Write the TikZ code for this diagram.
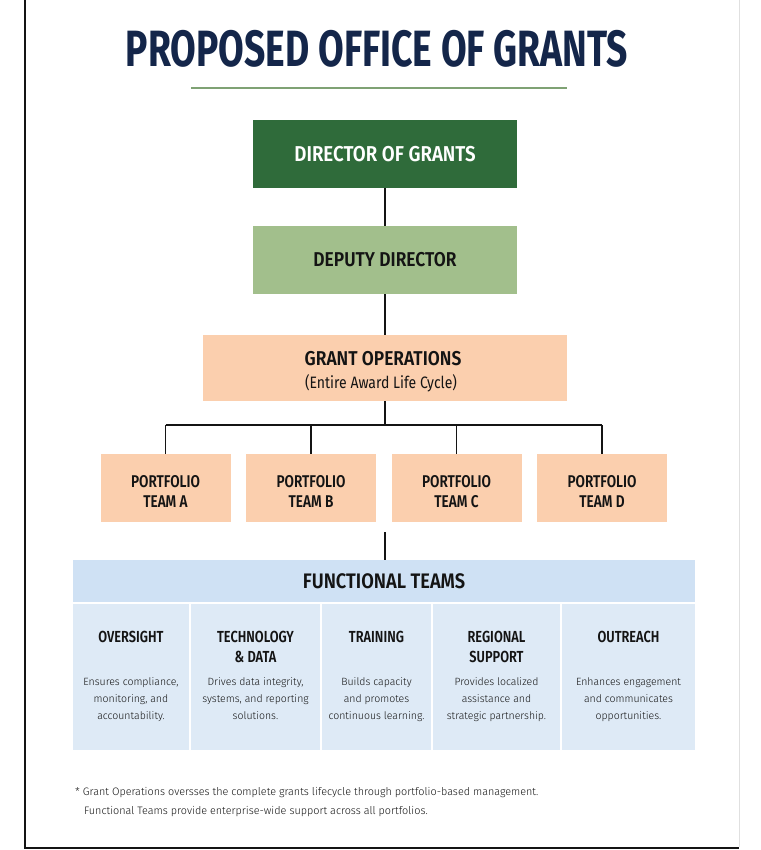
\documentclass[tikz,border=0pt]{standalone}
\usepackage{fontspec}
\setmainfont{Fira Sans}[FakeStretch=0.85]
\newfontfamily\ftitle{Fira Sans}[FakeStretch=0.73,UprightFont=*-Bold]
\newfontfamily\fbig{Fira Sans}[FakeStretch=0.87,UprightFont=*-SemiBold]
\newfontfamily\fmid{Fira Sans}[FakeStretch=0.8,UprightFont=*-SemiBold]
\newfontfamily\flight{Fira Sans}[UprightFont=*-Light]
\definecolor{navy}{HTML}{14264A}
\definecolor{dgreen}{HTML}{2F6B3A}
\definecolor{lgreen}{HTML}{A2BF8C}
\definecolor{rulegreen}{HTML}{7FA274}
\definecolor{peach}{HTML}{FBCFAE}
\definecolor{hblue}{HTML}{CFE1F4}
\definecolor{cblue}{HTML}{DEEAF6}
\definecolor{ink}{HTML}{141414}
\begin{document}
\begin{tikzpicture}[x=1pt,y=-1pt,
  box/.style={inner sep=0pt,align=center,text=ink},
  conn/.style={draw=ink,line width=1.2pt},
  coltitle/.style={align=center,font=\fmid\fontsize{16}{20}\selectfont,text=ink,anchor=base,inner sep=0pt},
  coldesc/.style={align=center,font=\flight\fontsize{10.5}{17}\selectfont,text=ink,anchor=base,inner sep=0pt}]
\useasboundingbox (0,0) rectangle (760,850);
\fill[white] (0,0) rectangle (760,850);
% frame
\draw[line width=1.2pt,ink] (25,0) -- (25,848) -- (739,848);
\draw[line width=1pt,black!12] (739,0) -- (739,847);
% title
\node[font=\ftitle\fontsize{51}{54}\selectfont,text=navy,anchor=base,inner sep=0pt] (title) at (377,67) {PROPOSED OFFICE OF GRANTS};
\coordinate (rl) at (191,88); \coordinate (rr) at (567,88);
\draw[rulegreen,line width=1.5pt] (rl) -- (rr);
% top boxes
\node[box,fill=dgreen,minimum width=264,minimum height=68,text=white,font=\fbig\fontsize{21.5}{24}\selectfont] (dir) at (385,154) {DIRECTOR OF GRANTS};
\node[box,fill=lgreen,minimum width=264,minimum height=68,font=\fbig\fontsize{20}{22}\selectfont] (dep) at (385,260) {DEPUTY DIRECTOR};
\node[box,fill=peach,minimum width=364,minimum height=66] (ops) at (385,368) {};
\node[font=\fbig\fontsize{20}{22}\selectfont,text=ink,anchor=base,inner sep=0pt] (opst) at (383,365) {GRANT OPERATIONS};
\node[font=\fontsize{16.5}{18}\selectfont,text=ink,anchor=base,inner sep=0pt] (opss) at (381,388) {(Entire Award Life Cycle)};
\draw[conn] (dir) -- (dep);
\draw[conn] (dep) -- (ops);
% portfolio teams
\foreach \n/\x/\l in {ta/165.5/A,tb/311/B,tc/456.5/C,td/602/D}{
  \node[box,fill=peach,minimum width=130,minimum height=68] (\n) at (\x,488) {};
  \node[box,anchor=base,font=\fmid\fontsize{17}{20}\selectfont] (\n t) at (\x,507) {PORTFOLIO\\TEAM \l};
}
\coordinate (bus) at (385,425);
\draw[conn] (ops) -- (bus);
\draw[conn] (ta.north |- bus) -- (td.north |- bus);
\foreach \n in {ta,tb,tc,td}{\draw[conn] (\n.north |- bus) -- (\n.north);}
% functional teams
\node[box,fill=hblue,minimum width=622,minimum height=42,font=\fbig\fontsize{21}{24}\selectfont] (fh) at (384,581) {FUNCTIONAL TEAMS};
\coordinate (tap) at (385,532);
\draw[conn] (tap) -- (tap |- fh.north);
\foreach \n/\x/\w in {c1/131/116,c2/255.5/129,c3/376.5/109,c4/496.5/127,c5/628.5/133}{
  \node[box,fill=cblue,minimum width=\w,minimum height=146] (\n) at (\x,677) {};
}
\node[coltitle] (h1) at (c1 |- 0,642) {OVERSIGHT};
\node[coltitle] (h2) at (c2 |- 0,662) {TECHNOLOGY\\\& DATA};
\node[coltitle] (h3) at (c3 |- 0,642) {TRAINING};
\node[coltitle] (h4) at (c4 |- 0,662) {REGIONAL\\SUPPORT};
\node[coltitle] (h5) at (c5 |- 0,642) {OUTREACH};
\node[coldesc] (d1) at (c1 |- 0,719) {Ensures compliance,\\monitoring, and\\accountability.};
\node[coldesc] (d2) at (c2 |- 0,719) {Drives data integrity,\\systems, and reporting\\solutions.};
\node[coldesc] (d3) at (c3 |- 0,719) {Builds capacity\\and promotes\\continuous learning.};
\node[coldesc] (d4) at (c4 |- 0,719) {Provides localized\\assistance and\\strategic partnership.};
\node[coldesc] (d5) at (c5 |- 0,719) {Enhances engagement\\and communicates\\opportunities.};
% footnote
\node[font=\flight\fontsize{10.8}{18.5}\selectfont,text=ink,anchor=base west,align=left,inner sep=0pt] (fn) at (75,814) {* Grant Operations oversses the complete grants lifecycle through portfolio-based management.\\\hspace*{9pt}Functional Teams provide enterprise-wide support across all portfolios.};
\end{tikzpicture}
\end{document}
